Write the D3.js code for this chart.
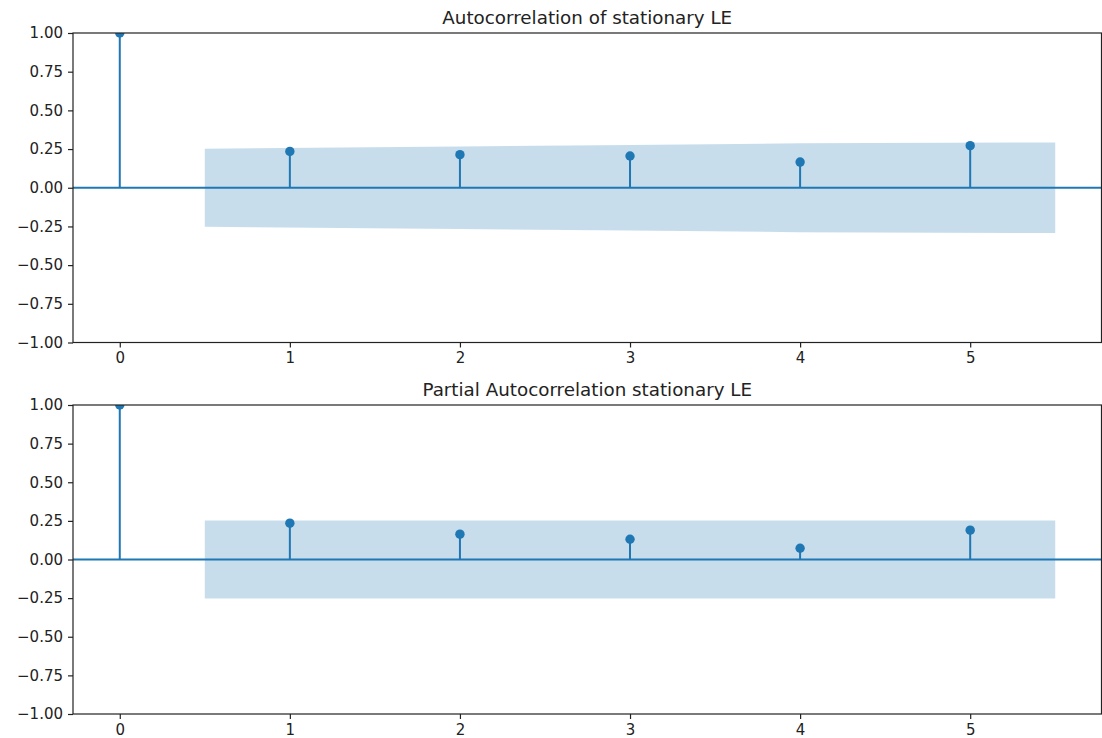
<!DOCTYPE html>
<html>
<head>
<meta charset="utf-8">
<script src="https://cdn.jsdelivr.net/npm/d3@7"></script>
<style>
  html, body { margin: 0; padding: 0; background: #fff; }
  svg { display: block; }
  text { font-family: "DejaVu Sans", sans-serif; fill: #222; }
</style>
</head>
<body>
<svg id="chart" width="1102" height="738"></svg>
<script>
// ---- data ----
const lags = [0, 1, 2, 3, 4, 5];
const acfValues = [1.0, 0.235, 0.214, 0.205, 0.166, 0.272];
const pacfValues = [1.0, 0.235, 0.164, 0.131, 0.073, 0.190];
const bandLags = [0.5, 2, 3, 4, 5.5];
const acfConf = [0.252, 0.266, 0.277, 0.287, 0.293];
const pacfConf = [0.252, 0.252, 0.252, 0.252, 0.252];
const xTickValues = [0, 1, 2, 3, 4, 5];
const yTickValues = [-1.0, -0.75, -0.5, -0.25, 0.0, 0.25, 0.5, 0.75, 1.0];
const titles = ["Autocorrelation of stationary LE", "Partial Autocorrelation stationary LE"];

const color = "#1f77b4";
const svg = d3.select("#chart");
const left = 73, right = 1101.5;
const panels = [
  { top: 33, bottom: 342.5, values: acfValues, conf: acfConf, title: titles[0] },
  { top: 405, bottom: 714, values: pacfValues, conf: pacfConf, title: titles[1] }
];

const x = d3.scaleLinear().domain([-0.275, 5.775]).range([left, right + 0.5]);
const fmt = v => d3.format(".2f")(v).replace("-", "\u2212");

panels.forEach((p, i) => {
  const y = d3.scaleLinear().domain([-1, 1]).range([p.bottom, p.top]);
  const clipId = "clip" + i;
  svg.append("clipPath").attr("id", clipId)
    .append("rect").attr("x", left).attr("y", p.top)
    .attr("width", right - left).attr("height", p.bottom - p.top);

  const g = svg.append("g");
  const plot = g.append("g").attr("clip-path", `url(#${clipId})`);

  // confidence band
  const area = d3.area()
    .x((d, k) => x(bandLags[k]))
    .y0(d => y(-d))
    .y1(d => y(d));
  plot.append("path").datum(p.conf)
    .attr("d", area)
    .attr("fill", color).attr("fill-opacity", 0.25).attr("stroke", "none");

  // zero line
  plot.append("line")
    .attr("x1", left).attr("x2", right)
    .attr("y1", y(0)).attr("y2", y(0))
    .attr("stroke", color).attr("stroke-width", 2);

  // stems
  plot.selectAll(".stem").data(p.values).enter().append("line")
    .attr("x1", (d, k) => x(lags[k])).attr("x2", (d, k) => x(lags[k]))
    .attr("y1", y(0)).attr("y2", d => y(d))
    .attr("stroke", color).attr("stroke-width", 2);

  // markers
  plot.selectAll(".dot").data(p.values).enter().append("circle")
    .attr("cx", (d, k) => x(lags[k])).attr("cy", d => y(d))
    .attr("r", 4.7).attr("fill", color);

  // axes
  const xAxis = d3.axisBottom(x).tickValues(xTickValues).tickSize(5).tickPadding(5)
    .tickFormat(d3.format("d"));
  const gx = g.append("g").attr("transform", `translate(0,${p.bottom})`).call(xAxis);
  const yAxis = d3.axisLeft(y).tickValues(yTickValues).tickSize(5).tickPadding(5)
    .tickFormat(fmt);
  const gy = g.append("g").attr("transform", `translate(${left},0)`).call(yAxis);
  [gx, gy].forEach(ax => {
    ax.select(".domain").remove();
    ax.selectAll(".tick line").attr("stroke", "#222").attr("stroke-width", 1.2);
    ax.selectAll(".tick text").attr("font-size", "15px")
      .attr("font-family", "DejaVu Sans").attr("fill", "#222");
  });

  // spines
  g.append("rect").attr("x", left).attr("y", p.top)
    .attr("width", right - left).attr("height", p.bottom - p.top)
    .attr("fill", "none").attr("stroke", "#222").attr("stroke-width", 1.2);

  // title
  g.append("text")
    .attr("x", (left + right) / 2).attr("y", p.top - 9)
    .attr("text-anchor", "middle").attr("font-size", "18.3px")
    .text(p.title);
});
</script>
</body>
</html>
